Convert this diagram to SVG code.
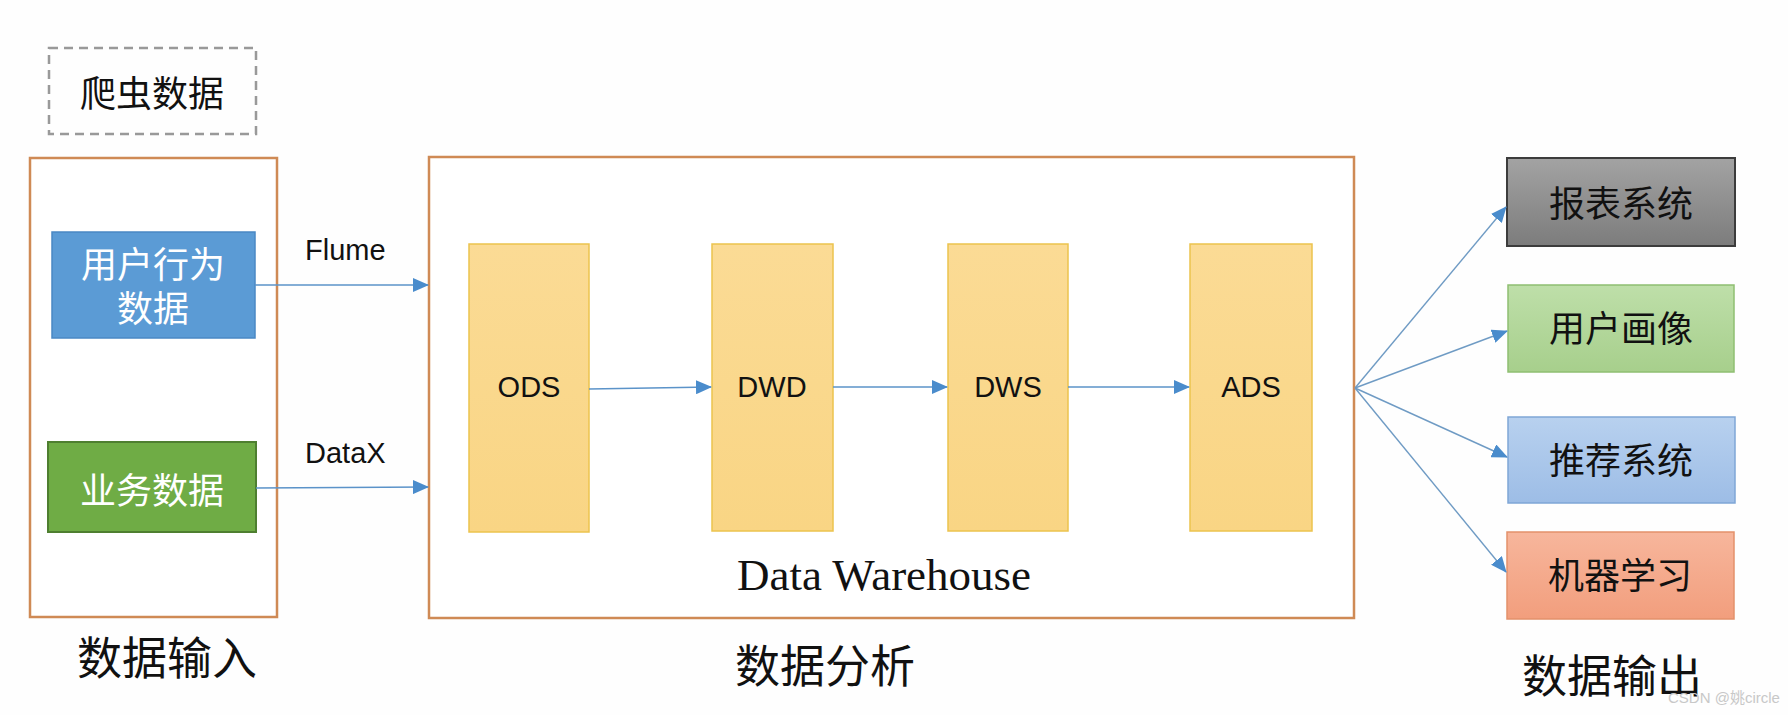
<svg xmlns="http://www.w3.org/2000/svg" width="1788" height="715" viewBox="0 0 1788 715">
<style>
.cjk{font-family:"Noto Sans CJK SC","Noto Sans",sans-serif}
.lat{font-family:"Liberation Sans",Arial,sans-serif}
.ser{font-family:"Liberation Serif","Times New Roman",serif}
.frame{fill:#fff;stroke:#cf8a55;stroke-width:2.5}
.layer{fill:url(#gLayer);stroke:#ecc34e;stroke-width:1.5}
.conn{stroke:#5b93c9;stroke-width:1.6;fill:none;marker-end:url(#arr)}
.fan{stroke:#6f9bc4;stroke-width:1.4;fill:none;marker-end:url(#arr)}
.big{font-size:45px;fill:#111}
.box{font-size:36px}
.lbl{font-size:29px;fill:#111}
</style>
<defs>
<marker id="arr" markerUnits="userSpaceOnUse" markerWidth="16" markerHeight="14" refX="15" refY="7" orient="auto">
<path d="M0,0 L16,7 L0,14 Z" fill="#4a8ccc"/>
</marker>
<linearGradient id="gLayer" x1="0" y1="0" x2="0" y2="1"><stop offset="0" stop-color="#fbdb95"/><stop offset="1" stop-color="#f9d584"/></linearGradient>
<linearGradient id="gGray" x1="0" y1="0" x2="0" y2="1"><stop offset="0" stop-color="#a3a3a3"/><stop offset="1" stop-color="#7c7c7c"/></linearGradient>
<linearGradient id="gGreen" x1="0" y1="0" x2="0" y2="1"><stop offset="0" stop-color="#bedfa9"/><stop offset="1" stop-color="#a7cf8c"/></linearGradient>
<linearGradient id="gBlue" x1="0" y1="0" x2="0" y2="1"><stop offset="0" stop-color="#b8d1ef"/><stop offset="1" stop-color="#9dbde6"/></linearGradient>
<linearGradient id="gSalmon" x1="0" y1="0" x2="0" y2="1"><stop offset="0" stop-color="#f7b69c"/><stop offset="1" stop-color="#f29e7d"/></linearGradient>
</defs>
<rect width="1788" height="715" fill="#fefefe"/>

<g id="crawler">
<rect x="49" y="48" width="207" height="86" fill="none" stroke="#999" stroke-width="2.5" stroke-dasharray="9,6"/>
<text class="cjk box" x="152" y="107" text-anchor="middle" fill="#111">爬虫数据</text>
</g>

<g id="input">
<rect class="frame" x="30" y="158" width="247" height="459"/>
<text class="cjk big" x="167" y="675" text-anchor="middle">数据输入</text>
</g>

<g id="user-behavior">
<rect x="52" y="232" width="203" height="106" fill="#5b9bd5" stroke="#4a88c4" stroke-width="1.5"/>
<text class="cjk box" x="153" y="278" text-anchor="middle" fill="#fff">用户行为</text>
<text class="cjk box" x="153" y="322" text-anchor="middle" fill="#fff">数据</text>
</g>

<g id="business">
<rect x="48" y="442" width="208" height="90" fill="#6fac45" stroke="#4e7f30" stroke-width="2"/>
<text class="cjk box" x="152" y="504" text-anchor="middle" fill="#fff">业务数据</text>
</g>

<g id="warehouse">
<rect class="frame" x="429" y="157" width="925" height="461"/>
<text class="ser" x="884" y="590" text-anchor="middle" font-size="45" fill="#111">Data Warehouse</text>
<text class="cjk big" x="825" y="683" text-anchor="middle">数据分析</text>
</g>

<g id="ods">
<rect class="layer" x="469" y="244" width="120" height="288"/>
<text class="lat lbl" x="529" y="397" text-anchor="middle">ODS</text>
</g>
<g id="dwd">
<rect class="layer" x="712" y="244" width="121" height="287"/>
<text class="lat lbl" x="772" y="397" text-anchor="middle">DWD</text>
</g>
<g id="dws">
<rect class="layer" x="948" y="244" width="120" height="287"/>
<text class="lat lbl" x="1008" y="397" text-anchor="middle">DWS</text>
</g>
<g id="ads">
<rect class="layer" x="1190" y="244" width="122" height="287"/>
<text class="lat lbl" x="1251" y="397" text-anchor="middle">ADS</text>
</g>

<g id="report">
<rect x="1507" y="158" width="228" height="88" fill="url(#gGray)" stroke="#3c3c3c" stroke-width="2"/>
<text class="cjk box" x="1621" y="217" text-anchor="middle" fill="#111">报表系统</text>
</g>
<g id="profile">
<rect x="1508" y="285" width="226" height="87" fill="url(#gGreen)" stroke="#8fbf72" stroke-width="1.5"/>
<text class="cjk box" x="1621" y="342" text-anchor="middle" fill="#111">用户画像</text>
</g>
<g id="recommend">
<rect x="1508" y="417" width="227" height="86" fill="url(#gBlue)" stroke="#7fa6d6" stroke-width="1.5"/>
<text class="cjk box" x="1621" y="474" text-anchor="middle" fill="#111">推荐系统</text>
</g>
<g id="ml">
<rect x="1507" y="532" width="227" height="87" fill="url(#gSalmon)" stroke="#e3916b" stroke-width="1.5"/>
<text class="cjk box" x="1620" y="589" text-anchor="middle" fill="#111">机器学习</text>
</g>
<g id="output-label">
<text class="cjk big" x="1612" y="693" text-anchor="middle">数据输出</text>
</g>

<g id="connectors">
<line class="conn" x1="255" y1="285" x2="428" y2="285"/>
<text class="lat lbl" x="305" y="260">Flume</text>
<line class="conn" x1="256" y1="488" x2="428" y2="487"/>
<text class="lat lbl" x="305" y="463">DataX</text>
<line class="conn" x1="589" y1="389" x2="711" y2="387"/>
<line class="conn" x1="833" y1="387" x2="947" y2="387"/>
<line class="conn" x1="1068" y1="387" x2="1189" y2="387"/>
<line class="fan" x1="1355" y1="388" x2="1506" y2="207"/>
<line class="fan" x1="1355" y1="388" x2="1507" y2="331"/>
<line class="fan" x1="1355" y1="388" x2="1507" y2="457"/>
<line class="fan" x1="1355" y1="388" x2="1506" y2="572"/>
</g>

<text class="lat" x="1668" y="703" font-size="15" fill="#c8c8c8">CSDN @<tspan class="cjk">姚</tspan>circle</text>
</svg>
